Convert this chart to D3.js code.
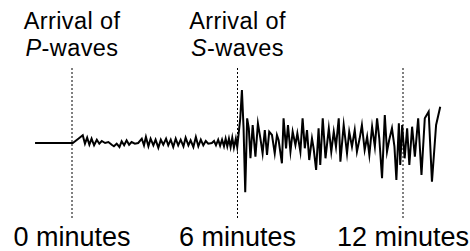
<!DOCTYPE html>
<html>
<head>
<meta charset="utf-8">
<script src="https://cdn.jsdelivr.net/npm/d3@7"></script>
<style>
  html, body { margin: 0; padding: 0; background: #fff; }
  svg { display: block; }
  text { font-family: "Liberation Sans", Arial, Helvetica, sans-serif; fill: #000; }
</style>
</head>
<body>
<svg id="chart" width="470" height="251"></svg>
<script>
// Marker times (minutes) and labels
const markerTimes = [0, 6, 12];
const bottomLabels = ["0 minutes", "6 minutes", "12 minutes"];
const topLabelLine1 = ["Arrival of", "Arrival of"];
const topLabelItalic = ["P", "S"];
const topLabelRest = ["-waves", "-waves"];
const topLabelTimes = [0, 6];

// Seismogram trace: time (minutes) and amplitude (arbitrary units)
const traceTime = [
  -1.34, 0.03, 0.23, 0.39, 0.47, 0.55, 0.63, 0.71, 0.80, 0.90, 0.99,
  1.08, 1.20, 1.32, 1.44, 1.52, 1.62, 1.72, 1.80, 1.89, 1.98, 2.07,
  2.16, 2.28, 2.40, 2.53, 2.61, 2.68, 2.77, 2.85, 2.95, 3.03, 3.13,
  3.22, 3.31, 3.41, 3.49, 3.58, 3.67, 3.76, 3.85, 3.94, 4.04, 4.12,
  4.22, 4.30, 4.40, 4.49, 4.58, 4.67, 4.76, 4.85, 4.94, 5.07, 5.15,
  5.22, 5.30, 5.37, 5.44, 5.51, 5.57, 5.63, 5.69, 5.75, 5.81, 5.87,
  5.94, 5.99,
  6.10, 6.16, 6.22, 6.28, 6.35, 6.41, 6.47, 6.55, 6.65, 6.74, 6.83,
  6.91, 6.99, 7.07, 7.15, 7.25, 7.35, 7.43, 7.49, 7.61, 7.67, 7.76,
  7.83, 7.92, 8.00, 8.10, 8.17, 8.28, 8.36, 8.44, 8.52, 8.60, 8.70,
  8.76, 8.85, 8.94, 9.00, 9.09, 9.19, 9.31, 9.40, 9.49, 9.57, 9.67,
  9.73, 9.85, 9.97, 10.05, 10.15, 10.25, 10.33, 10.43, 10.51, 10.61, 10.70,
  10.78, 10.88, 10.98, 11.06, 11.14, 11.24, 11.34, 11.42, 11.50, 11.60, 11.69,
  11.76, 11.85, 11.90, 11.97, 12.06, 12.15, 12.23, 12.33, 12.43, 12.55, 12.67,
  12.79, 12.93, 13.05, 13.20, 13.35
];
const traceAmp = [
  0, 0, 0.43, 0.77, -0.07, 0.53, -0.17, 0.43, -0.23, 0.33, -0.07,
  0.2, 0.0, 0.1, -0.17, -0.33, -0.07, -0.4, 0.17, -0.23, 0.27, -0.17,
  0.1, -0.07, 0.0, 0.43, -0.23, 0.6, -0.33, 0.43, -0.23, 0.33, -0.47,
  0.33, -0.17, 0.43, -0.23, 0.33, -0.4, 0.43, -0.23, 0.33, -0.33, 0.53,
  -0.23, 0.27, -0.4, 0.6, -0.33, 0.33, -0.23, 0.2, -0.07, 0.0, 0.2,
  -0.23, 0.33, -0.27, 0.33, -0.33, 0.43, -0.33, 0.43, -0.4, 0.53, -0.47,
  0.43, -0.4,
  2.47, 5.3, 1.47, -4.93, 2.47, 1.47, -1.53, 1.8, -1.37, 1.97, 0.47,
  -1.03, 1.3, -1.2, 1.13, 0.8, -1.03, 0.8, 0.3, -2.03, 2.47, -0.53,
  1.8, -0.87, 1.13, -0.2, 0.97, -0.87, 2.47, -0.53, 1.3, -1.7, 0.47,
  -0.53, -2.7, 1.47, -2.2, 2.47, -1.53, 1.47, -0.87, 1.13, -0.37, 2.47,
  -1.87, 1.8, -1.03, 1.13, -0.37, 1.3, -0.87, 0.47, 1.8, -0.7, 0.63,
  -1.2, 1.63, -0.37, 2.47, 0.47, -3.53, 2.8, -0.87, 0.3, 1.47, -0.37,
  -3.7, 1.97, -2.2, 1.8, -1.53, 1.47, -2.2, 1.63, -1.37, 2.47, -3.2,
  2.47, 3.13, -3.87, 1.8, 3.63
];

const svg = d3.select("#chart");

const x = d3.scaleLinear().domain([0, 12]).range([72, 403]);
const y = d3.scaleLinear().domain([-7.5, 7.5]).range([218, 68]);

// Dotted marker lines
svg.append("g").selectAll("line")
  .data(markerTimes)
  .join("line")
  .attr("x1", d => x(d)).attr("x2", d => x(d))
  .attr("y1", y(7.5)).attr("y2", y(-7.5))
  .attr("stroke", "#000")
  .attr("stroke-width", 1)
  .attr("stroke-dasharray", "2,2");

// Trace
const pts = traceTime.map((t, i) => [t, traceAmp[i]]);
const line = d3.line().x(d => x(d[0])).y(d => y(d[1]));
svg.append("path")
  .datum(pts)
  .attr("d", line)
  .attr("fill", "none")
  .attr("stroke", "#000")
  .attr("stroke-width", 2)
  .attr("stroke-linejoin", "miter")
  .attr("stroke-miterlimit", 10);

// Bottom labels
svg.append("g").selectAll("text")
  .data(markerTimes)
  .join("text")
  .attr("x", d => x(d))
  .attr("y", 246)
  .attr("text-anchor", "middle")
  .style("font-size", "27px")
  .text((d, i) => bottomLabels[i]);

// Top labels: two lines
const tg = svg.append("g").selectAll("g")
  .data(topLabelTimes)
  .join("g");
tg.append("text")
  .attr("x", d => x(d))
  .attr("y", 29)
  .attr("text-anchor", "middle")
  .style("font-size", "23.5px")
  .style("letter-spacing", "0.4px")
  .text((d, i) => topLabelLine1[i]);
const t2 = tg.append("text")
  .attr("x", d => x(d))
  .attr("y", 55.5)
  .attr("text-anchor", "middle")
  .style("font-size", "23.5px")
  .style("letter-spacing", "0.4px");
t2.append("tspan").style("font-style", "italic").text((d, i) => topLabelItalic[i]);
t2.append("tspan").text((d, i) => topLabelRest[i]);
</script>
</body>
</html>
